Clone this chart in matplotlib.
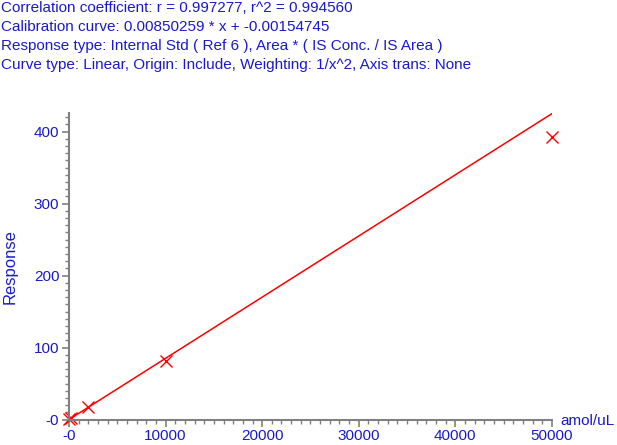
import numpy as np
import matplotlib
matplotlib.use('Agg')
import matplotlib.pyplot as plt
from matplotlib.ticker import MultipleLocator, FuncFormatter

plt.rcParams['font.family'] = ['Liberation Sans', 'DejaVu Sans']

# calibration points
conc = [0, 200, 2000, 10000, 50000]
resp = [0.5, 1.5, 17, 82, 392]
slope = 0.00850259
icept = -0.00154745
header = [
    'Correlation coefficient: r = 0.997277, r^2 = 0.994560',
    'Calibration curve: 0.00850259 * x + -0.00154745',
    'Response type: Internal Std ( Ref 6 ), Area * ( IS Conc. / IS Area )',
    'Curve type: Linear, Origin: Include, Weighting: 1/x^2, Axis trans: None',
]

blue = '#1a1acc'
grey = '#808080'

fig = plt.figure(figsize=(6.17, 4.45), dpi=100)
ax = fig.add_axes([0.1118, 0.0573, 0.7828, 0.6888])

xx = np.array([0, 50000])
ax.plot(xx, slope * xx + icept, color='#ff0000', lw=1.1)
ax.plot(conc, resp, 'x', color='#ff0000', ms=8.5, mew=1.0, clip_on=False)

ax.set_xlim(0, 50000)
ax.set_ylim(0, 426)
for s in ['top', 'right']:
    ax.spines[s].set_visible(False)
for s in ['left', 'bottom']:
    ax.spines[s].set_color(grey)
    ax.spines[s].set_linewidth(1.5)

ax.xaxis.set_major_locator(MultipleLocator(10000))
ax.xaxis.set_minor_locator(MultipleLocator(1000))
ax.yaxis.set_major_locator(MultipleLocator(100))
ax.yaxis.set_minor_locator(MultipleLocator(10))
fmt = FuncFormatter(lambda v, p: '-0' if v == 0 else '%d' % v)
ax.xaxis.set_major_formatter(fmt)
ax.yaxis.set_major_formatter(fmt)
ax.tick_params(which='major', length=5, width=1.2, color=grey, labelcolor=blue,
               labelsize=11, pad=2)
ax.tick_params(which='minor', length=3, width=1.0, color=grey)

fig.text(10 / 617, 1 - 267 / 445, 'Response', color=blue, fontsize=12,
         rotation=90, ha='center', va='center')
fig.text(560 / 617, 1 - 421 / 445, 'amol/uL', color=blue, fontsize=11,
         ha='left', va='center')

for i, line in enumerate(header):
    fig.text(1 / 617, 1 - (8 + 19 * i) / 445, line, color=blue, fontsize=11,
             ha='left', va='center')

fig.savefig('out.png', dpi=100)
